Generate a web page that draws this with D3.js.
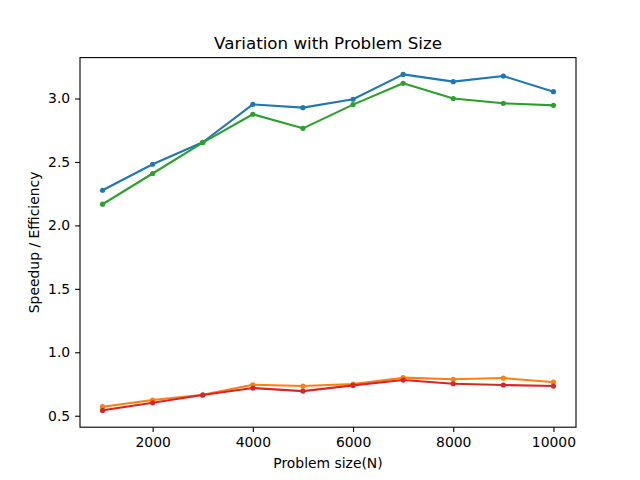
<!DOCTYPE html>
<html>
<head>
<meta charset="utf-8">
<script src="https://cdn.jsdelivr.net/npm/d3@7"></script>
<style>
  body { margin: 0; background: #fff; }
  svg text { font-family: "DejaVu Sans", sans-serif; fill: #000; }
</style>
</head>
<body>
<svg id="chart" width="640" height="480"></svg>
<script>
// problem sizes on the x axis
var sizes = [1000, 2000, 3000, 4000, 5000, 6000, 7000, 8000, 9000, 10000];

// series values
var speedupA = [2.277, 2.482, 2.655, 2.954, 2.928, 2.994, 3.190, 3.133, 3.177, 3.054];
var efficiencyA = [0.571, 0.624, 0.665, 0.744, 0.734, 0.750, 0.800, 0.787, 0.797, 0.765];
var speedupB = [2.167, 2.409, 2.653, 2.876, 2.765, 2.952, 3.120, 3.000, 2.962, 2.946];
var efficiencyB = [0.542, 0.602, 0.663, 0.718, 0.694, 0.739, 0.781, 0.752, 0.742, 0.734];

var xTicks = [2000, 4000, 6000, 8000, 10000];
var yTicks = [0.5, 1.0, 1.5, 2.0, 2.5, 3.0];

var seriesList = [
    {values: speedupA, color: "#1f77b4"},
    {values: efficiencyA, color: "#ff7f0e"},
    {values: speedupB, color: "#2ca02c"},
    {values: efficiencyB, color: "#d62728"}
];

var svg = d3.select("#chart");
var margin = {left: 80, right: 64, top: 57.6, bottom: 52.8};
var width = 640 - margin.left - margin.right;
var height = 480 - margin.top - margin.bottom;

// matplotlib style 5% margins around the data
var allY = [].concat(speedupA, efficiencyA, speedupB, efficiencyB);
var yMin = d3.min(allY), yMax = d3.max(allY);
var yPad = (yMax - yMin) * 0.05;
var xPad = (d3.max(sizes) - d3.min(sizes)) * 0.05;

var x = d3.scaleLinear()
    .domain([d3.min(sizes) - xPad, d3.max(sizes) + xPad])
    .range([0, width]);
var y = d3.scaleLinear()
    .domain([yMin - yPad, yMax + yPad])
    .range([height, 0]);

var g = svg.append("g").attr("transform", "translate(" + margin.left + "," + margin.top + ")");

var line = d3.line()
    .x(function (d, i) { return x(sizes[i]); })
    .y(function (d) { return y(d); });

seriesList.forEach(function (s) {
    g.append("path")
        .datum(s.values)
        .attr("fill", "none")
        .attr("stroke", s.color)
        .attr("stroke-width", 2.08)
        .attr("stroke-linejoin", "round")
        .attr("stroke-linecap", "square")
        .attr("d", line);
    g.selectAll(null)
        .data(s.values)
        .enter().append("circle")
        .attr("cx", function (d, i) { return x(sizes[i]); })
        .attr("cy", function (d) { return y(d); })
        .attr("r", 2.6)
        .attr("fill", s.color);
});

// axes frame
g.append("rect")
    .attr("width", width)
    .attr("height", height)
    .attr("fill", "none")
    .attr("stroke", "#000")
    .attr("stroke-width", 1.1);

var xAxis = g.append("g")
    .attr("transform", "translate(0," + height + ")")
    .call(d3.axisBottom(x).tickValues(xTicks).tickFormat(d3.format("d")).tickSize(4.9).tickPadding(4.9));
var yAxis = g.append("g")
    .call(d3.axisLeft(y).tickValues(yTicks).tickFormat(d3.format(".1f")).tickSize(4.9).tickPadding(4.9));

[xAxis, yAxis].forEach(function (a) {
    a.select(".domain").remove();
    a.selectAll(".tick line").attr("stroke", "#000").attr("stroke-width", 1.1);
    a.selectAll(".tick text")
        .attr("font-size", "13.9px")
        .attr("font-family", "DejaVu Sans, sans-serif")
        .attr("fill", "#000");
});

svg.append("text")
    .attr("x", margin.left + width / 2)
    .attr("y", 49)
    .attr("text-anchor", "middle")
    .attr("font-size", "16.7px")
    .text("Variation with Problem Size");

svg.append("text")
    .attr("x", margin.left + width / 2)
    .attr("y", 468)
    .attr("text-anchor", "middle")
    .attr("font-size", "13.9px")
    .text("Problem size(N)");

svg.append("text")
    .attr("transform", "translate(39," + (margin.top + height / 2) + ") rotate(-90)")
    .attr("text-anchor", "middle")
    .attr("font-size", "13.9px")
    .text("Speedup / Efficiency");
</script>
</body>
</html>
